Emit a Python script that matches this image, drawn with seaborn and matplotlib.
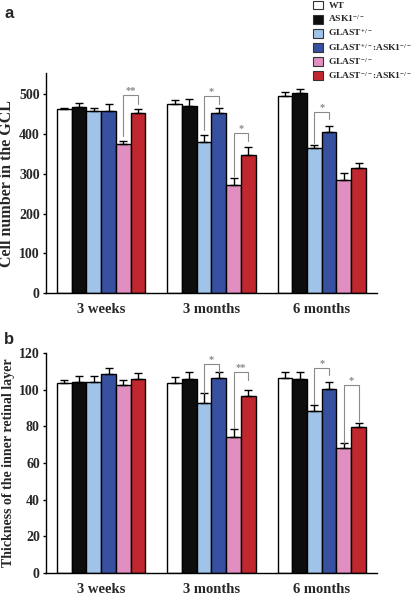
import matplotlib
matplotlib.use("Agg")
import matplotlib.pyplot as plt
import seaborn as sns
import pandas as pd
import numpy as np
from matplotlib.patches import Patch
from matplotlib.container import BarContainer

sns.set_theme(style="white")
plt.rcParams['font.family'] = ['Liberation Serif', 'DejaVu Serif']
plt.rcParams['font.weight'] = 'bold'
plt.rcParams['mathtext.fontset'] = 'custom'
plt.rcParams['mathtext.rm'] = 'Liberation Serif:bold'
plt.rcParams['mathtext.it'] = 'Liberation Serif:bold'
plt.rcParams['mathtext.bf'] = 'Liberation Serif:bold'
plt.rcParams['mathtext.default'] = 'rm'

# ---- data ----
ages = ['3 weeks', '3 months', '6 months']
genotypes = ['WT', 'ASK1$^{-/-}$', 'GLAST$^{+/-}$', 'GLAST$^{+/-}$:ASK1$^{-/-}$',
             'GLAST$^{-/-}$', 'GLAST$^{-/-}$:ASK1$^{-/-}$']
colors = ['#ffffff', '#0d0d0d', '#a0c4e9', '#3850a0', '#e08fc0', '#c0272e']

# panel a: cell number in the GCL
wt_gcl = [462, 475, 497]
ask1_gcl = [468, 472, 503]
glast_het_gcl = [458, 381, 365]
glast_het_ask1_gcl = [459, 454, 405]
glast_ko_gcl = [376, 271, 284]
glast_ko_ask1_gcl = [452, 348, 314]
wt_gcl_err = [5, 10, 8]
ask1_gcl_err = [11, 17, 10]
glast_het_gcl_err = [9, 18, 8]
glast_het_ask1_gcl_err = [17, 12, 15]
glast_ko_gcl_err = [8, 19, 18]
glast_ko_ask1_gcl_err = [10, 19, 13]

# panel b: thickness of the inner retinal layer
wt_irl = [103.5, 103.5, 106.6]
ask1_irl = [104.0, 106.0, 105.9]
glast_het_irl = [104.0, 92.7, 88.3]
glast_het_ask1_irl = [108.5, 106.6, 100.4]
glast_ko_irl = [102.4, 74.4, 68.2]
glast_ko_ask1_irl = [105.7, 96.7, 79.5]
wt_irl_err = [1.8, 3.3, 3.1]
ask1_irl_err = [3.7, 3.7, 3.8]
glast_het_irl_err = [3.7, 5.3, 3.5]
glast_het_ask1_irl_err = [3.1, 3.0, 3.6]
glast_ko_irl_err = [3.1, 4.4, 2.5]
glast_ko_ask1_irl_err = [3.3, 3.0, 2.5]

# significance: (age index, left genotype, right genotype, bracket top, left leg end, right leg end, label)
sig_gcl = [(0, 4, 5, 498, 395, 477, '**'), (1, 2, 3, 497, 410, 476, '*'),
           (1, 4, 5, 403, 296, 382, '*'), (2, 2, 3, 455, 377, 437, '*')]
sig_irl = [(1, 2, 3, 114.3, 98, 109.6, '*'), (1, 4, 5, 109.8, 79, 105.5, '**'),
           (2, 2, 3, 112.1, 92, 108, '*'), (2, 4, 5, 102.6, 71, 83, '*')]

gcl_means = [wt_gcl, ask1_gcl, glast_het_gcl, glast_het_ask1_gcl, glast_ko_gcl, glast_ko_ask1_gcl]
gcl_errs = [wt_gcl_err, ask1_gcl_err, glast_het_gcl_err, glast_het_ask1_gcl_err, glast_ko_gcl_err, glast_ko_ask1_gcl_err]
irl_means = [wt_irl, ask1_irl, glast_het_irl, glast_het_ask1_irl, glast_ko_irl, glast_ko_ask1_irl]
irl_errs = [wt_irl_err, ask1_irl_err, glast_het_irl_err, glast_het_ask1_irl_err, glast_ko_irl_err, glast_ko_ask1_irl_err]


def make_df(means, errs):
    rows = []
    for g, m, e in zip(genotypes, means, errs):
        for a, mv, ev in zip(ages, m, e):
            rows.append({'age': a, 'genotype': g, 'value': mv, 'err': ev})
    return pd.DataFrame(rows)


fig = plt.figure(figsize=(4.11, 5.96), dpi=100)
ax_a = fig.add_axes([0.112, 0.508, 0.805, 0.369])
ax_b = fig.add_axes([0.112, 0.0386, 0.805, 0.369])


def draw(ax, means, errs, sigs, ylim, yticks, ylabel, ylabel_size):
    df = make_df(means, errs)
    sns.barplot(data=df, x='age', y='value', hue='genotype', order=ages,
                hue_order=genotypes, palette=colors, errorbar=None,
                edgecolor='black', linewidth=1.0, width=0.8, legend=False,
                saturation=1, ax=ax)
    bar_conts = [c for c in ax.containers if isinstance(c, BarContainer)]
    centers = []
    for i, cont in enumerate(bar_conts):
        xs = [b.get_x() + b.get_width() / 2 for b in cont.patches]
        centers.append(xs)
    for i, xs in enumerate(centers):
        e = np.array(errs[i], dtype=float)
        ax.errorbar(xs, means[i], yerr=[np.zeros_like(e), e], fmt='none',
                    ecolor='black', elinewidth=1.0, capsize=3, capthick=1.0, zorder=3)
    for (ai, l, r, top, lb, rb, lab) in sigs:
        xl = centers[l][ai]
        xr = centers[r][ai]
        ax.plot([xl, xl, xr, xr], [lb, top, top, rb], color='#8a8a8a', lw=0.8,
                zorder=4, solid_joinstyle='miter')
        ax.text((xl + xr) / 2, top, lab, ha='center', va='bottom', color='#8a8a8a',
                fontsize=7.5, fontweight='bold')
    ax.set_xlim(-0.5, 2.5)
    ax.set_ylim(*ylim)
    ax.set_yticks(yticks)
    ax.set_xlabel('')
    ax.set_ylabel(ylabel, fontsize=ylabel_size, fontweight='bold')
    ax.yaxis.set_label_coords(-0.094, 0.5)
    for s in ['top', 'right']:
        ax.spines[s].set_visible(False)
    for s in ['left', 'bottom']:
        ax.spines[s].set_color('black')
        ax.spines[s].set_linewidth(1.0)
    ax.tick_params(axis='y', length=2.5, width=1, direction='out', left=True,
                   labelsize=10, pad=2, color='black')
    ax.tick_params(axis='x', length=0, labelsize=10.5, pad=7)
    for t in ax.get_xticklabels() + ax.get_yticklabels():
        t.set_fontweight('bold')


draw(ax_a, gcl_means, gcl_errs, sig_gcl, (0, 553), [0, 100, 200, 300, 400, 500],
     'Cell number in the GCL', 11.5)
draw(ax_b, irl_means, irl_errs, sig_irl, (0, 120), [0, 20, 40, 60, 80, 100, 120],
     'Thickness of the inner retinal layer', 10)

fig.text(0.01, 0.99, 'a', fontsize=12, fontweight='bold', family='Liberation Sans',
         ha='left', va='top')
fig.text(0.01, 0.443, 'b', fontsize=12, fontweight='bold', family='Liberation Sans',
         ha='left', va='top')

handles = [Patch(facecolor=c, edgecolor='#333333', linewidth=0.8) for c in colors]
fig.legend(handles, genotypes, loc='upper left', bbox_to_anchor=(0.745, 1.01),
           frameon=False, fontsize=6.8, handlelength=1.05, handleheight=1.05,
           handletextpad=0.6, labelspacing=0.33, borderpad=0.2)

fig.savefig('out.png', dpi=100)
